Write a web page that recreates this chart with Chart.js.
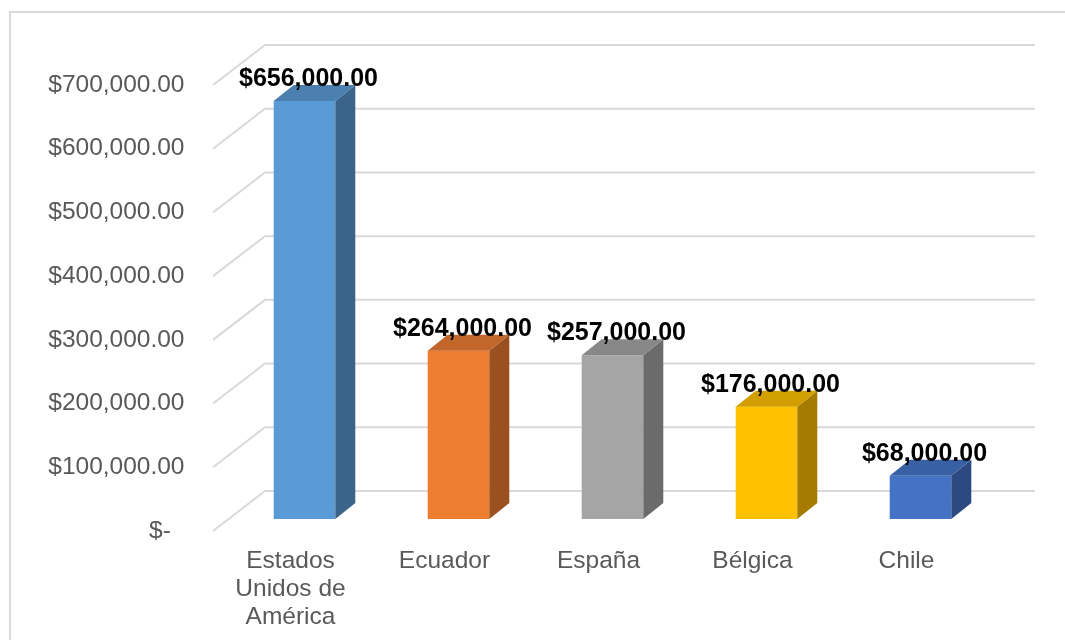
<!DOCTYPE html>
<html>
<head>
<meta charset="utf-8">
<script src="https://cdn.jsdelivr.net/npm/chart.js@4.4.1/dist/chart.umd.min.js"></script>
<style>
  html, body { margin: 0; padding: 0; background: #fff; }
  #wrap { position: relative; width: 1065px; height: 640px; }
</style>
</head>
<body>
<div id="wrap"><canvas id="chart"></canvas></div>
<script>
// datos
const paises = [['Estados', 'Unidos de', 'América'], 'Ecuador', 'España', 'Bélgica', 'Chile'];
const montos = [656000, 264000, 257000, 176000, 68000];
const ejeMin = 0, ejeMax = 700000, ejePaso = 100000;

// colores: cara frontal, tapa y lateral
const colFrente = ['#5B9BD5', '#ED7D31', '#A5A5A5', '#FFC000', '#4472C4'];
const colTapa   = ['#4A7FB0', '#C2662A', '#888888', '#D1A000', '#3760A5'];
const colLado   = ['#3A6489', '#9A501F', '#6B6B6B', '#A67C00', '#2C4A80'];

const FONT = '"Liberation Sans", Arial, sans-serif';
const GRID = '#d9d9d9';
// profundidad 3D (px)
const PROF = { dx: 20, dy: -16 };
const FONDO = { dx: 37.5, dy: -28 };
const PISO = { dx: -14.5, dy: 12 };

const fmt = v => v === 0 ? '$-  ' : '$' + v.toLocaleString('en-US', { minimumFractionDigits: 2, maximumFractionDigits: 2 });

const marco = {
  id: 'marco',
  beforeDraw(chart) {
    const ctx = chart.ctx;
    ctx.save();
    ctx.strokeStyle = GRID;
    ctx.lineWidth = 2;
    ctx.beginPath();
    ctx.moveTo(10, 700); ctx.lineTo(10, 12); ctx.lineTo(1100, 12);
    ctx.stroke();
    ctx.restore();
  }
};

const paredes = {
  id: 'paredes',
  beforeDatasetsDraw(chart) {
    const { ctx, chartArea: a, scales: { y } } = chart;
    ctx.save();
    ctx.strokeStyle = GRID;
    ctx.lineWidth = 2;
    y.ticks.forEach(t => {
      const py = y.getPixelForValue(t.value);
      ctx.beginPath();
      ctx.moveTo(a.left + PISO.dx, py + PISO.dy);
      ctx.lineTo(a.left + FONDO.dx, py + FONDO.dy);
      ctx.lineTo(a.right + FONDO.dx, py + FONDO.dy);
      ctx.stroke();
    });
    ctx.restore();
  }
};

const barras3d = {
  id: 'barras3d',
  afterDatasetsDraw(chart) {
    const ctx = chart.ctx;
    const meta = chart.getDatasetMeta(0);
    ctx.save();
    meta.data.forEach((bar, i) => {
      const p = bar.getProps(['x', 'y', 'base', 'width'], true);
      const l = p.x - p.width / 2, r = p.x + p.width / 2;
      // lateral
      ctx.fillStyle = colLado[i];
      ctx.beginPath();
      ctx.moveTo(r, p.y); ctx.lineTo(r + PROF.dx, p.y + PROF.dy);
      ctx.lineTo(r + PROF.dx, p.base + PROF.dy); ctx.lineTo(r, p.base);
      ctx.closePath(); ctx.fill();
      // tapa
      ctx.fillStyle = colTapa[i];
      ctx.beginPath();
      ctx.moveTo(l, p.y); ctx.lineTo(l + PROF.dx, p.y + PROF.dy);
      ctx.lineTo(r + PROF.dx, p.y + PROF.dy); ctx.lineTo(r, p.y);
      ctx.closePath(); ctx.fill();
    });
    // etiquetas de valor
    ctx.fillStyle = '#000';
    ctx.font = 'bold 25px ' + FONT;
    ctx.textAlign = 'center';
    ctx.textBaseline = 'middle';
    meta.data.forEach((bar, i) => {
      ctx.fillText(fmt(montos[i]), bar.x + 4, bar.y - 22);
    });
    ctx.restore();
  }
};

new Chart(document.getElementById('chart'), {
  type: 'bar',
  data: {
    labels: paises,
    datasets: [{
      data: montos,
      backgroundColor: colFrente,
      borderWidth: 0,
      categoryPercentage: 0.4,
      barPercentage: 1
    }]
  },
  options: {
    responsive: true, maintainAspectRatio: false,
    animation: false,
    layout: { padding: { left: 0, right: 67.5, top: 73, bottom: 0 } },
    plugins: { legend: { display: false }, tooltip: { enabled: false } },
    scales: {
      x: {
        grid: { display: false, drawTicks: false },
        border: { display: false },
        afterFit: s => { s.height = 121; },
        ticks: {
          color: '#595959', font: { family: FONT, size: 24.5, lineHeight: 1.15 },
          padding: 28, labelOffset: -14, maxRotation: 0, autoSkip: false
        }
      },
      y: {
        min: ejeMin, max: ejeMax,
        grid: { display: false, drawTicks: false },
        border: { display: false },
        afterFit: s => { s.width = 227.5; },
        ticks: {
          stepSize: ejePaso, color: '#595959', font: { family: FONT, size: 24.5 },
          padding: 43, labelOffset: 12, callback: v => fmt(v)
        }
      }
    }
  },
  plugins: [marco, paredes, barras3d]
});
</script>
</body>
</html>
